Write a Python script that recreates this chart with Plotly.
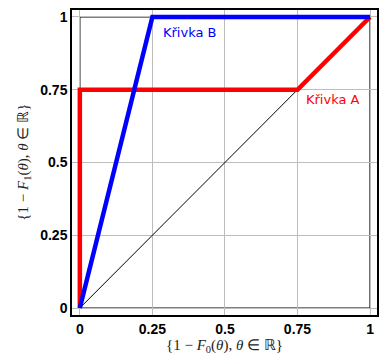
import plotly.graph_objects as go

tick_vals = [0, 0.25, 0.5, 0.75, 1]
tick_text = ["0", "0.25", "0.5", "0.75", "1"]

curve_a_x = [0, 0, 0.75, 1]
curve_a_y = [0, 0.75, 0.75, 1]
curve_b_x = [0, 0.25, 1]
curve_b_y = [0, 1, 1]
diag_x = [0, 1]
diag_y = [0, 1]

fig = go.Figure()
fig.add_trace(go.Scatter(x=diag_x, y=diag_y, mode="lines",
                         line=dict(color="black", width=1)))
fig.add_trace(go.Scatter(x=curve_a_x, y=curve_a_y, mode="lines",
                         line=dict(color="#ff0000", width=4.5)))
fig.add_trace(go.Scatter(x=curve_b_x, y=curve_b_y, mode="lines",
                         line=dict(color="#0000ff", width=4.5)))

fig.add_shape(type="rect", x0=0, y0=0, x1=1, y1=1, xref="x", yref="y",
              line=dict(color="black", width=1.2), layer="below")

axis_common = dict(
    tickvals=tick_vals, ticktext=tick_text,
    showgrid=True, gridcolor="#bdbdbd", gridwidth=1,
    zeroline=False, showline=True, linecolor="black", linewidth=1.5,
    mirror=True, ticks="",
    tickfont=dict(family="Liberation Sans", size=14, color="black", weight="bold"),
)

fig.update_layout(
    width=387, height=356,
    margin=dict(l=72, r=8, t=8, b=41),
    paper_bgcolor="white", plot_bgcolor="white",
    showlegend=False,
    xaxis=dict(range=[-0.027, 1.024], **axis_common),
    yaxis=dict(range=[-0.024, 1.024], **axis_common),
)

title_font = dict(family="Liberation Serif", size=15, color="#222222")
fig.add_annotation(text="{1 − <i>F</i><sub>0</sub>(<i>θ</i>), <i>θ</i> ∈ ℝ}",
                   xref="paper", yref="paper", x=0.5, y=-0.103,
                   xanchor="center", yanchor="middle", showarrow=False,
                   font=title_font)
fig.add_annotation(text="{1 − <i>F</i><sub>1</sub>(<i>θ</i>), <i>θ</i> ∈ ℝ}",
                   xref="paper", yref="paper", x=-0.16, y=0.5, textangle=-90,
                   xanchor="center", yanchor="middle", showarrow=False,
                   font=title_font)

fig.add_annotation(text="Křivka B", x=0.281, y=0.945, xref="x", yref="y",
                   xanchor="left", yanchor="middle", showarrow=False,
                   font=dict(family="DejaVu Sans", size=13, color="#0000ff"))
fig.add_annotation(text="Křivka A", x=0.774, y=0.717, xref="x", yref="y",
                   xanchor="left", yanchor="middle", showarrow=False,
                   font=dict(family="DejaVu Sans", size=13, color="#ff0000"))

fig.write_html("out.html", config={"displayModeBar": False},
               post_script="document.body.style.margin='0';")
